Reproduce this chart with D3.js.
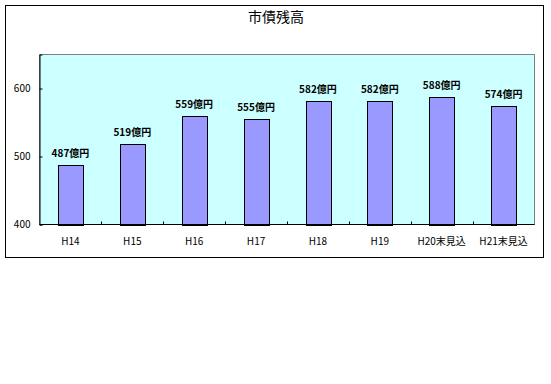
<!DOCTYPE html>
<html>
<head>
<meta charset="utf-8">
<script src="https://cdn.jsdelivr.net/npm/d3@7/dist/d3.min.js"></script>
<style>
  html, body { margin: 0; padding: 0; background: #fff; }
  svg { display: block; }
  text { font-family: "Noto Sans CJK JP", "Noto Sans", sans-serif; fill: #000; }
</style>
</head>
<body>
<svg id="chart" width="551" height="384"></svg>
<script>
// Municipal bond balance by fiscal year (units: 億円)
const title = "市債残高";
const categories = ["H14", "H15", "H16", "H17", "H18", "H19", "H20末見込", "H21末見込"];
const values = [487, 519, 559, 555, 582, 582, 588, 574];
const yTicks = [400, 500, 600];
const unit = "億円";

const svg = d3.select("#chart");

// outer frame
svg.append("rect")
  .attr("x", 5.5).attr("y", 5.5)
  .attr("width", 538).attr("height", 252)
  .attr("fill", "#fff").attr("stroke", "#000").attr("stroke-width", 1);

const plot = { left: 39.5, top: 54.5, right: 534.5, bottom: 224.5 };

const x = d3.scaleBand()
  .domain(categories)
  .range([plot.left, plot.right])
  .paddingInner(0.6)
  .paddingOuter(0.3);

const xBand = d3.scaleBand()
  .domain(categories)
  .range([plot.left, plot.right]);

const y = d3.scaleLinear()
  .domain([400, 650])
  .range([plot.bottom, plot.top]);

// plot area
svg.append("rect")
  .attr("x", plot.left).attr("y", plot.top)
  .attr("width", plot.right - plot.left)
  .attr("height", plot.bottom - plot.top)
  .attr("fill", "#ccffff")
  .attr("stroke", "#808080").attr("stroke-width", 1);

// bars
svg.append("g").selectAll("rect")
  .data(values)
  .join("rect")
  .attr("x", (d, i) => Math.round(x(categories[i])) + 0.5)
  .attr("y", d => Math.round(y(d)) + 0.5)
  .attr("width", Math.round(x.bandwidth()))
  .attr("height", d => Math.round(y(400)) - Math.round(y(d)))
  .attr("fill", "#9999ff")
  .attr("stroke", "#000").attr("stroke-width", 1);

// value labels
svg.append("g").selectAll("text")
  .data(values)
  .join("text")
  .attr("x", (d, i) => x(categories[i]) + x.bandwidth() / 2)
  .attr("y", d => y(d) - 8)
  .attr("text-anchor", "middle")
  .attr("font-size", 10)
  .attr("font-weight", "bold")
  .text(d => d + unit);

// y axis
const yAxis = d3.axisLeft(y)
  .tickValues(yTicks)
  .tickSize(-3)
  .tickPadding(9)
  .tickFormat(d3.format("d"));
const gy = svg.append("g")
  .attr("transform", `translate(${plot.left},0)`)
  .call(yAxis);
gy.select(".domain").attr("stroke", "#000");
gy.selectAll(".tick line").attr("stroke", "#000");
gy.selectAll(".tick text")
  .attr("font-size", 10)
  .attr("font-family", "Noto Sans CJK JP, sans-serif");

// x axis: baseline, ticks between categories, labels under each bar
const gx = svg.append("g");
gx.append("line")
  .attr("x1", plot.left).attr("x2", plot.right)
  .attr("y1", plot.bottom).attr("y2", plot.bottom)
  .attr("stroke", "#000");
gx.selectAll(".sep")
  .data(categories.slice(1))
  .join("line")
  .attr("class", "sep")
  .attr("x1", d => Math.round(xBand(d)) + 0.5)
  .attr("x2", d => Math.round(xBand(d)) + 0.5)
  .attr("y1", plot.bottom).attr("y2", plot.bottom - 3)
  .attr("stroke", "#000");
gx.selectAll(".cat")
  .data(categories)
  .join("text")
  .attr("class", "cat")
  .attr("x", d => x(d) + x.bandwidth() / 2)
  .attr("y", plot.bottom + 20)
  .attr("text-anchor", "middle")
  .attr("font-size", 10)
  .text(d => d);

// title
svg.append("text")
  .attr("x", 276).attr("y", 22)
  .attr("text-anchor", "middle")
  .attr("font-size", 14)
  .text(title);
</script>
</body>
</html>
